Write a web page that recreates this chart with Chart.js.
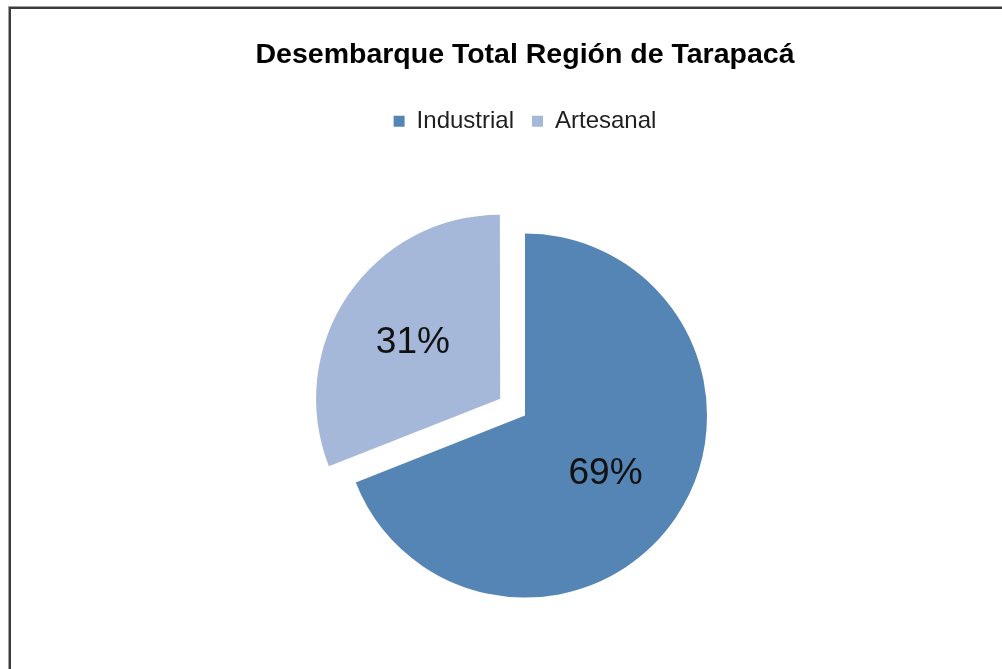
<!DOCTYPE html>
<html>
<head>
<meta charset="utf-8">
<script src="https://cdn.jsdelivr.net/npm/chart.js@4/dist/chart.umd.min.js"></script>
<style>
    html, body { margin: 0; padding: 0; background: #fff; overflow: hidden; }
    #frame {
        position: absolute; left: 9px; top: 7px; width: 1100px; height: 700px;
        border-left: 2px solid #3c3c3c; border-top: 2px solid #3c3c3c;
        box-shadow: -1px -1px 0 #a0a0a0;
    }
    #chart { position: absolute; left: 0; top: 0; }
</style>
</head>
<body>
<div id="frame"></div>
<canvas id="chart" width="1002" height="688"></canvas>
<script>
// Datos (porcentaje del desembarque total)
const categories = ['Industrial', 'Artesanal'];
const shares = [69, 31];
const sliceColors = ['#5585B5', '#A5B8D9'];
const explodePx = [0, 30];        // desplazamiento visible del sector
const labelRadius = [0.535, 0.58]; // posición de la etiqueta (fracción del radio)

const fontFamily = '"Liberation Sans", Arial, sans-serif';
const labelSize = 37;

// Etiquetas de porcentaje dentro de cada sector
const pctLabels = {
    id: 'pctLabels',
    afterDatasetsDraw (chart) {
        const ctx = chart.ctx;
        const meta = chart.getDatasetMeta(0);
        const total = shares.reduce((acc, cur) => acc + cur, 0);
        ctx.save();
        ctx.font = labelSize + 'px ' + fontFamily;
        ctx.fillStyle = '#111';
        ctx.textAlign = 'center';
        ctx.textBaseline = 'alphabetic';
        meta.data.forEach((arc, i) => {
            const p = arc.getProps(['x', 'y', 'startAngle', 'endAngle', 'outerRadius']);
            const mid = (p.startAngle + p.endAngle) / 2;
            const d = explodePx[i] + p.outerRadius * labelRadius[i];
            const pct = Math.round(shares[i] / total * 100) + '%';
            // centrar la altura de las cifras en el punto
            ctx.fillText(pct, p.x + Math.cos(mid) * d, p.y + Math.sin(mid) * d + labelSize * 0.358);
        });
        ctx.restore();
    }
};

new Chart(document.getElementById('chart'), {
    type: 'pie',
    data: {
        labels: categories,
        datasets: [{
            data: shares,
            backgroundColor: sliceColors,
            borderWidth: 0,
            // Chart.js traslada el arco offset/4 px
            offset: explodePx.map(o => o * 4),
            hoverOffset: 0
        }]
    },
    options: {
        responsive: false,
        animation: false,
        radius: 182,
        layout: { padding: { left: 48, right: 0, top: 0, bottom: 0 } },
        plugins: {
            title: {
                display: true,
                text: 'Desembarque Total Región de Tarapacá',
                color: '#000',
                font: { family: fontFamily, size: 28.5, weight: 'bold' },
                padding: { top: 38, bottom: 19 }
            },
            legend: {
                position: 'top',
                labels: {
                    color: '#1f1f1f',
                    font: { family: fontFamily, size: 24 },
                    boxWidth: 11,
                    boxHeight: 11,
                    padding: 18
                }
            },
            tooltip: { enabled: false }
        }
    },
    plugins: [pctLabels]
});
</script>
</body>
</html>
